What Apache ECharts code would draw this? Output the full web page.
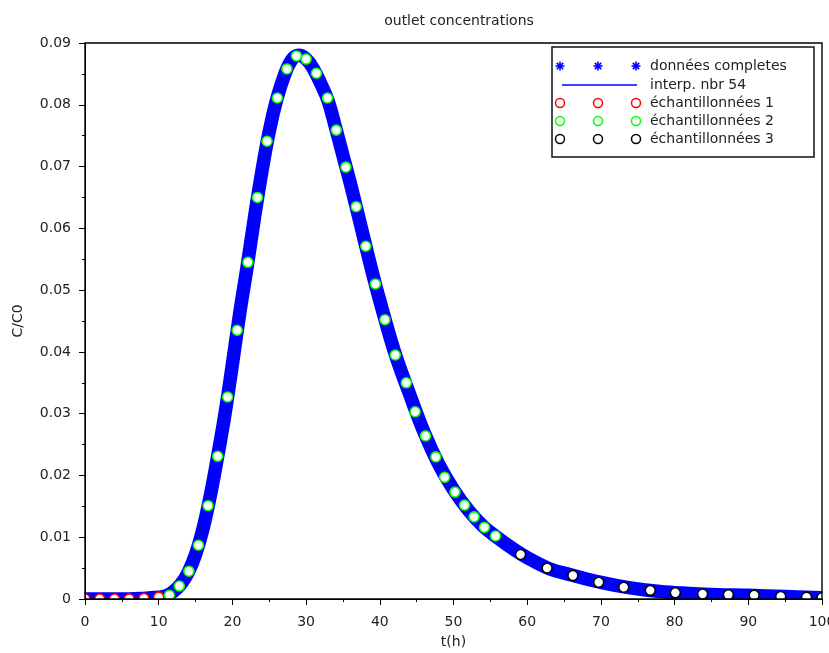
<!DOCTYPE html>
<html>
<head>
<meta charset="utf-8">
<script src="https://cdn.jsdelivr.net/npm/echarts@6/dist/echarts.min.js"></script>
<style>html,body{margin:0;padding:0;background:#fff;}#c{width:829px;height:653px;}</style>
</head>
<body>
<div id="c"></div>
<script>
// complete data (dense band)
const tComplete = [0,2,4,6,8,9,10,11,12,13,14,15,16,17,18,19,20,21,22,23,24,25,26,27,28,29,30,31,32,33,34,35,36,37,38,39,40,42,44,46,48,50,52,54,56,58,60,63,66,70,74,78,82,86,90,95,100];
const cComplete = [0,0,0,0,0.0001,0.0002,0.0003,0.0005,0.0012,0.0024,0.0043,0.0072,0.0113,0.0167,0.0231,0.0300,0.0380,0.0463,0.0538,0.0618,0.0692,0.0757,0.0808,0.0846,0.0872,0.0880,0.0874,0.0858,0.0834,0.0806,0.0763,0.0718,0.0673,0.0625,0.0576,0.0528,0.0483,0.0400,0.0333,0.0270,0.0218,0.0177,0.0144,0.0118,0.0099,0.0082,0.0067,0.0049,0.0039,0.0027,0.0018,0.0012,0.0009,0.0007,0.0006,0.0004,0.0002];

// sampled set 1 (red)
const t1 = [0,2,4,6,8,10];
const c1 = [0,0,0,0,0.0001,0.0003];

// sampled set 2 (green)
const t2 = [11.45,12.8,14.1,15.4,16.7,18.0,19.35,20.65,22.1,23.4,24.7,26.1,27.4,28.7,30.0,31.4,32.9,34.1,35.4,36.8,38.1,39.4,40.7,42.1,43.6,44.8,46.2,47.6,48.8,50.2,51.5,52.8,54.2,55.7];
const c2 = [0.0006,0.0021,0.0045,0.0087,0.0151,0.0231,0.0327,0.0435,0.0545,0.0650,0.0741,0.0811,0.0858,0.0879,0.0874,0.0851,0.0811,0.0759,0.0699,0.0635,0.0571,0.0510,0.0452,0.0395,0.0350,0.0303,0.0264,0.0230,0.0197,0.0173,0.0152,0.0133,0.0116,0.0102];

// sampled set 3 (black)
const t3 = [59.1,62.7,66.2,69.7,73.1,76.7,80.1,83.8,87.3,90.8,94.4,97.9,100];
const c3 = [0.0072,0.0050,0.0038,0.0027,0.0019,0.0014,0.0010,0.0008,0.0007,0.0006,0.0004,0.0003,0.0002];

const xTicks = [0,10,20,30,40,50,60,70,80,90,100];
const yTickLabels = ['0','0.01','0.02','0.03','0.04','0.05','0.06','0.07','0.08','0.09'];
const legendNames = ['données completes','interp. nbr 54','échantillonnées 1','échantillonnées 2','échantillonnées 3'];

const zip = (a,b) => a.map((v,i)=>[v,b[i]]);
const FONT = 'DejaVu Sans';

const chart = echarts.init(document.getElementById('c'), null, {renderer:'canvas'});

// plot rectangle
const GL = 85, GT = 43, GR = 822, GB = 599;

const gfx = [];
// white masks outside the plot area (clip marks like the original)
gfx.push({type:'rect', shape:{x:0,y:GB+0.5,width:829,height:653-GB}, style:{fill:'#fff'}, z:8, silent:true});
gfx.push({type:'rect', shape:{x:0,y:0,width:GL-0.5,height:653}, style:{fill:'#fff'}, z:8, silent:true});
gfx.push({type:'rect', shape:{x:GR+0.5,y:0,width:829-GR,height:653}, style:{fill:'#fff'}, z:8, silent:true});
gfx.push({type:'rect', shape:{x:0,y:0,width:829,height:GT-0.5}, style:{fill:'#fff'}, z:8, silent:true});

// legend drawn with graphic elements
const LX = 552, LY = 47, LW = 262, LH = 110;
const rowY = [66, 85, 103, 121, 139];
const mx = [560, 598, 636];
gfx.push({type:'rect', shape:{x:LX,y:LY,width:LW,height:LH}, style:{fill:'#fff', stroke:'#111', lineWidth:1.5}, z:100});
function asterisk(cx, cy){
  const r = 4.5, els = [];
  [[0,1],[1,0],[0.707,0.707],[0.707,-0.707]].forEach(d=>{
    els.push({type:'line', shape:{x1:cx-d[0]*r,y1:cy-d[1]*r,x2:cx+d[0]*r,y2:cy+d[1]*r}, style:{stroke:'#0000ff', lineWidth:1.6}, z:101});
  });
  return els;
}
mx.forEach(x=>asterisk(x,rowY[0]).forEach(e=>gfx.push(e)));
gfx.push({type:'line', shape:{x1:562,y1:rowY[1],x2:637,y2:rowY[1]}, style:{stroke:'#0000ff', lineWidth:1.5}, z:101});
const circColors = ['#ff0000','#00ff00','#000000'];
circColors.forEach((col,i)=>{
  mx.forEach(x=>gfx.push({type:'circle', shape:{cx:x,cy:rowY[2+i],r:4.5}, style:{fill:'#fff', stroke:col, lineWidth:1.5}, z:101}));
});
legendNames.forEach((n,i)=>{
  gfx.push({type:'text', x:650, y:rowY[i], style:{text:n, fill:'#222', font:'14px "'+FONT+'"', verticalAlign:'middle', textAlign:'left'}, z:101});
});

const circleSeries = (name, t, c, col) => ({
  name, type:'scatter', data: zip(t,c), symbol:'circle', symbolSize:10, clip:false,
  itemStyle:{color:'#fff', borderColor:col, borderWidth:1.6, opacity:1}, z:5
});

const axisCommon = {
  z:10,
  axisLine:{show:true, onZero:false, lineStyle:{color:'#000', width:1}},
  axisTick:{show:true, inside:false, length:6, lineStyle:{color:'#000'}},
  minorTick:{show:true, splitNumber:2, length:3, lineStyle:{color:'#000'}},
  splitLine:{show:false}
};

chart.setOption({
  animation:false,
  backgroundColor:'#fff',
  title:{text:'outlet concentrations', left:454, top:9, textAlign:'center', z:10,
    textStyle:{fontSize:14, fontWeight:'normal', color:'#222', fontFamily:FONT}},
  grid:{left:GL, right:829-GR, top:GT, bottom:653-GB, show:true, borderColor:'#000', borderWidth:1.4, z:10,
    outerBoundsMode:'none', containLabel:false},
  xAxis:Object.assign({type:'value', min:0, max:100, interval:10,
    name:'t(h)', nameLocation:'middle', nameGap:36,
    nameTextStyle:{fontSize:14, color:'#222', fontFamily:FONT},
    axisLabel:{fontSize:14, color:'#222', fontFamily:FONT, margin:16,
      formatter:v=> xTicks.indexOf(v)>=0 ? String(v) : ''}
  }, axisCommon),
  yAxis:Object.assign({type:'value', min:0, max:0.09, interval:0.01,
    name:'C/C0', nameLocation:'middle', nameGap:60, nameRotate:90,
    nameTextStyle:{fontSize:14, color:'#222', fontFamily:FONT},
    axisLabel:{fontSize:14, color:'#222', fontFamily:FONT, margin:14,
      formatter:v=> yTickLabels[Math.round(v*100)] || ''}
  }, axisCommon),
  graphic: gfx,
  series:[
    {name:legendNames[0], type:'line', data:zip(tComplete,cComplete), showSymbol:false, smooth:0.4, clip:true,
      lineStyle:{color:'#0000ff', width:13.5, cap:'round', join:'round'}, z:2},
    {name:legendNames[1], type:'line', data:zip(tComplete,cComplete), showSymbol:false, smooth:0.4, clip:true,
      lineStyle:{color:'#0000ff', width:1}, z:3},
    circleSeries(legendNames[2], t1, c1, '#ff0000'),
    circleSeries(legendNames[3], t2, c2, '#00ff00'),
    circleSeries(legendNames[4], t3, c3, '#000000')
  ]
});
</script>
</body>
</html>
